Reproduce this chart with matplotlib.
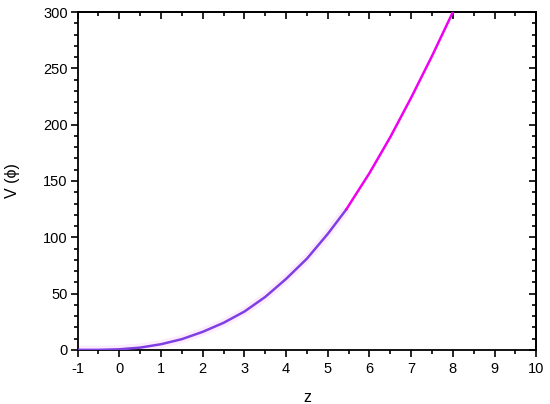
"""
Potential V(phi) against z
"""
import numpy as np
import matplotlib
matplotlib.use("Agg")
import matplotlib.pyplot as plt
from matplotlib.ticker import MultipleLocator

plt.rcParams['font.family'] = ['Liberation Sans', 'DejaVu Sans']
plt.rcParams['axes.unicode_minus'] = False

# values, purple part then magenta part
z_low = [-1.0, -0.5, 0.0, 0.5, 1.0, 1.5, 2.0, 2.5, 3.0, 3.5, 4.0, 4.5, 5.0, 5.45]
v_low = [0.0, 0.0, 0.5, 2.0, 5.0, 9.5, 16.0, 24.0, 34.0, 47.0, 63.0, 81.0, 103.0, 125.0]
z_high = [5.45, 5.5, 6.0, 6.5, 7.0, 7.5, 8.0]
v_high = [125.0, 128.0, 157.0, 189.0, 224.0, 261.0, 300.0]

x_ticks = list(range(-1, 11))
y_ticks = [0, 50, 100, 150, 200, 250, 300]

fig = plt.figure(figsize=(5.5, 4.04), dpi=100)
ax = fig.add_axes([0.141, 0.134, 0.834, 0.836])

# faint pink halo round the purple part (as in the source image)
ax.plot(z_low, v_low, color='#fdedfc', lw=6, solid_capstyle='butt', zorder=1)
ax.plot(z_low, v_low, color='#7f3fe4', lw=1.8, zorder=3)
ax.plot(z_high, v_high, color='#f000f0', lw=1.8, zorder=3)

ax.set_xlim(-1, 10)
ax.set_ylim(0, 300)
ax.set_xticks(x_ticks)
ax.set_yticks(y_ticks)
ax.xaxis.set_minor_locator(MultipleLocator(0.5))
ax.yaxis.set_minor_locator(MultipleLocator(10))
ax.tick_params(which='both', direction='out', width=1.2, labelsize=10.5,
               top=False, right=False)
ax.tick_params(which='major', length=5)
ax.tick_params(which='minor', length=3)
ax.tick_params(axis='x', pad=4)
ax.tick_params(axis='y', pad=2)

for s in ax.spines.values():
    s.set_linewidth(1.3)

# top and right: ticks pointing in, no labels
top = ax.secondary_xaxis('top')
top.set_xticks(x_ticks)
top.xaxis.set_minor_locator(MultipleLocator(0.5))
top.tick_params(which='both', direction='in', width=1.2, labeltop=False)
top.tick_params(which='major', length=5)
top.tick_params(which='minor', length=3)
top.spines['top'].set_linewidth(1.3)

right = ax.secondary_yaxis('right')
right.set_yticks(y_ticks)
right.yaxis.set_minor_locator(MultipleLocator(10))
right.tick_params(which='both', direction='in', width=1.2, labelright=False)
right.tick_params(which='major', length=5)
right.tick_params(which='minor', length=3)
right.spines['right'].set_linewidth(1.3)

ax.set_xlabel('z', fontsize=11.5, labelpad=10)
ax.set_ylabel('V (ϕ)', fontsize=11.5, labelpad=17)

fig.savefig('out.png', dpi=100)
